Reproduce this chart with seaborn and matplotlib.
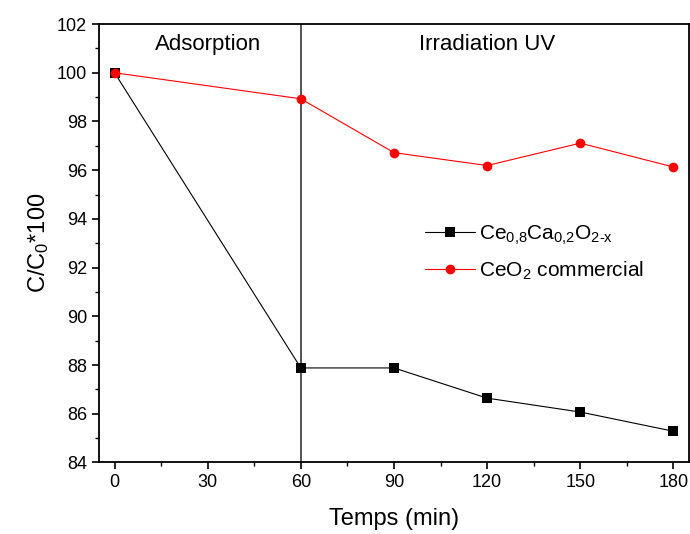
"""Photodegradation curves: C/C0 vs time for two ceria samples."""

import matplotlib.pyplot as plt
import pandas as pd
import seaborn as sns
from matplotlib.lines import Line2D
from matplotlib.ticker import MultipleLocator

# data
times = [0, 60, 90, 120, 150, 180]
ce_ca = [100.0, 87.88, 87.88, 86.64, 86.07, 85.28]
ceo2_commercial = [100.0, 98.93, 96.72, 96.19, 97.11, 96.13]
series_labels = [
    r"Ce$_{\rm 0{,}8}$Ca$_{\rm 0{,}2}$O$_{\rm 2\text{-}x}$",
    r"CeO$_{\rm 2}$ commercial",
]
x_ticks = [0, 30, 60, 90, 120, 150, 180]

sns.set_style("ticks")
plt.rcParams["font.family"] = ["Liberation Sans", "DejaVu Sans"]
plt.rcParams["mathtext.fontset"] = "custom"
plt.rcParams["mathtext.rm"] = "Liberation Sans"
plt.rcParams["mathtext.it"] = "Liberation Sans:italic"
for key in ["text.color", "axes.labelcolor", "xtick.color", "ytick.color", "axes.edgecolor"]:
    plt.rcParams[key] = "black"

frame = pd.DataFrame(
    {
        "time": times * 2,
        "value": ce_ca + ceo2_commercial,
        "sample": ["ce_ca"] * len(times) + ["ceo2"] * len(times),
    }
)

fig = plt.figure(figsize=(6.9, 5.34), dpi=100)
ax = fig.add_axes([0.1435, 0.134, 0.855, 0.821])

ax.axvline(60, color="#454545", lw=1.3, zorder=1)

sns.lineplot(
    data=frame,
    x="time",
    y="value",
    hue="sample",
    style="sample",
    palette={"ce_ca": "black", "ceo2": "red"},
    markers={"ce_ca": "s", "ceo2": "o"},
    dashes=False,
    markersize=7,
    markeredgewidth=0,
    linewidth=0.8,
    legend=False,
    ax=ax,
    zorder=3,
)

ax.set_xlim(-5, 185)
ax.set_ylim(84, 102)
ax.set_xticks(x_ticks)
ax.xaxis.set_minor_locator(MultipleLocator(15))
ax.yaxis.set_major_locator(MultipleLocator(2))
ax.yaxis.set_minor_locator(MultipleLocator(1))
ax.tick_params(which="major", direction="out", length=5, width=1.2, labelsize=13)
ax.tick_params(which="minor", direction="out", length=3, width=1.0)

for spine in ax.spines.values():
    spine.set_visible(True)
    spine.set_linewidth(1.3)

ax.set_xlabel("Temps (min)", fontsize=17, labelpad=12)
ax.set_ylabel(r"C/C$_{\rm 0}$*100", fontsize=17, labelpad=4)

ax.text(30, 101.15, "Adsorption", ha="center", va="center", fontsize=16)
ax.text(120, 101.15, "Irradiation UV", ha="center", va="center", fontsize=16)

handles = [
    Line2D([], [], color="black", marker="s", markersize=7, markeredgewidth=0, lw=0.8),
    Line2D([], [], color="red", marker="o", markersize=7, markeredgewidth=0, lw=0.8),
]
ax.legend(
    handles,
    series_labels,
    loc="center left",
    bbox_to_anchor=(0.52, 0.478),
    frameon=False,
    fontsize=15,
    handlelength=2.4,
    handletextpad=0.2,
    labelspacing=0.6,
)

fig.savefig("out.png", dpi=100)
